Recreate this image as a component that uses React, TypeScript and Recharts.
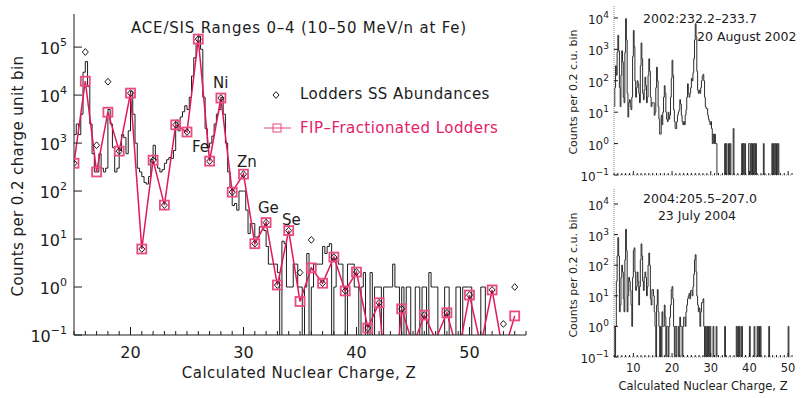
import React from 'react';
import { ComposedChart, Line, XAxis, YAxis } from 'recharts';

const FONT = '"DejaVu Sans", sans-serif';
const INK = '#1c1c1c';
const FRAME_GRAY = '#8a8a8a';
const FIP_RED = '#e0185a';
const SQUARE_PINK = '#ec4a82';
const LEGEND_RED = '#e3226a';

const BIN = 0.2;
const FLOOR = 0.001; // empty bins sit below the 10^-1 floor and get clipped

// ---------- main panel: ACE/SIS counts per 0.2 charge-unit bin, from Z = 15.0 ----------
const MAIN_Z_START = 15;
const MAIN_COUNTS = [
  1500, 2500, 1500, 4000, 30000, // 15
  50000, 15000, 2500, 600, 250, // 16
  250, 600, 300, 250, 300, // 17
  5000, 2500, 800, 250, 300, // 18
  700, 1500, 1300, 600, 1800, // 19
  12000, 4000, 1000, 300, 250, // 20
  200, 150, 140, 200, 450, // 21
  900, 450, 300, 250, 280, // 22
  380, 450, 500, 480, 700, // 23
  3000, 1800, 3500, 4500, 6000, // 24
  5000, 9000, 25000, 60000, 120000, // 25
  170000, 90000, 9000, 2000, 800, // 26
  1000, 1400, 2500, 4000, 5000, // 27
  9000, 4000, 1000, 250, 120, // 28
  50, 55, 40, 100, 100, // 29
  100, 40, 13, 21, 21, // 30
  11, 11, 18, 18, 15, // 31
  7, 3, 3, 3, 3, // 32
  2, 0, 9, 8, 1, // 33
  1, 1, 3, 3, 1, // 34
  1, 0, 1, 5, 0, // 35
  1, 3, 3, 3, 3, // 36
  7, 5, 7, 8, 0, // 37
  1, 4, 3, 3, 1, // 38
  0, 3, 3, 3, 1, // 39
  1, 0, 1, 2, 0, // 40
  0, 2, 0, 1, 1, // 41
  1, 0, 1, 1, 1, // 42
  1, 3, 1, 1, 0, // 43
  1, 0, 1, 1, 0, // 44
  0, 1, 1, 0, 1, // 45
  1, 0, 2, 1, 1, // 46
  1, 0, 0, 0, 1, // 47
  1, 0, 0, 0, 1, // 48
  1, 0, 1, 1, 1, // 49
  1, 0, 0, 0, 0, // 50
  1, 1, 0, 0, 0, // 51
  0, 0, 0, 0, 0, // 52
  0, 0, 0, 0, 0, // 53
  0, 0, 0, 0, 0, // 54
];

const ELEMENT_Z = [
  15, 16, 17, 18, 19, 20, 21, 22, 23, 24, 25, 26, 27, 28, 29, 30, 31, 32, 33, 34,
  35, 36, 37, 38, 39, 40, 41, 42, 43, 44, 45, 46, 47, 48, 49, 50, 51, 52, 53, 54,
];
const FIP_LODDERS = [
  380, 19500, 250, 4400, 680, 11000, 6.2, 440, 51, 2400, 1700, 147000, 420, 8700, 95, 225, 8, 22, 1.1, 15,
  0.5, 2.5, 1.2, 4.2, 0.83, 2.05, 0.14, 0.47, 0, 0.35, 0.06, 0.26, 0.08, 0.29, 0.04, 0.68, 0.06, 0.87, 0.04, 0.25,
];
const SS_LODDERS = [
  380, 79000, 900, 19000, 680, 11000, 6.2, 440, 51, 2400, 1700, 147000, 420, 8700, 95, 225, 8, 22, 1.1, 15,
  2.0, 9.6, 1.2, 4.2, 0.83, 2.05, 0.14, 0.47, 0, 0.35, 0.06, 0.26, 0.08, 0.29, 0.04, 0.68, 0.06, 0.87, 0.17, 1.0,
];

const MAIN_X_LABELS = [20, 30, 40, 50];
const MAIN_Y_TICKS = [0.1, 1, 10, 100, 1000, 10000, 100000];

// ---------- right panels: two events, counts per 0.2 c.u. bin, from Z = 5.0 ----------
const SMALL_Z_START = 5;
const AUG2002_COUNTS = [
  15, 60, 300, 150, 800, // 5
  2800, 900, 60, 15, 150, // 6
  900, 400, 30, 20, 800, // 7
  9500, 2000, 40, 7, 20, // 8
  25, 15, 12, 30, 600, // 9
  4000, 1200, 100, 30, 60, // 10
  100, 80, 40, 20, 300, // 11
  1600, 500, 40, 25, 50, // 12
  130, 70, 20, 30, 150, // 13
  500, 200, 30, 15, 20, // 14
  20, 20, 8, 10, 60, // 15
  270, 100, 15, 6, 2, // 16
  2, 8, 4, 10, 30, // 17
  70, 40, 10, 6, 5, // 18
  10, 6, 8, 30, 120, // 19
  450, 150, 12, 5, 3, // 20
  3, 5, 8, 10, 12, // 21
  25, 18, 8, 5, 4, // 22
  5, 4, 8, 12, 30, // 23
  80, 40, 30, 40, 60, // 24
  120, 100, 180, 500, 2000, // 25
  6500, 2500, 200, 50, 40, // 26
  50, 40, 60, 100, 140, // 27
  160, 100, 30, 15, 13, // 28
  13, 8, 6, 5, 4, // 29
  5, 3, 1, 2, 1, // 30
  2, 1, 1, 0, 0, // 31
  0, 0, 0, 0, 0, // 32
  0, 0, 0, 1, 0, // 33
  1, 0, 0, 1, 0, // 34
  1, 0, 0, 0, 3, // 35
  0, 0, 0, 0, 0, // 36
  0, 0, 0, 0, 0, // 37
  1, 0, 1, 0, 1, // 38
  0, 0, 0, 0, 1, // 39
  1, 0, 1, 0, 1, // 40
  0, 1, 0, 1, 0, // 41
  0, 0, 0, 0, 0, // 42
  0, 0, 0, 1, 0, // 43
  0, 0, 0, 0, 0, // 44
  0, 0, 0, 0, 1, // 45
  0, 1, 0, 1, 0, // 46
  1, 0, 1, 0, 0, // 47
  0, 0, 0, 0, 0, // 48
  0, 0, 0, 0, 0, // 49
  0, 0, 0, 0, 0, // 50
];
const JUL2004_COUNTS = [
  1, 0, 1, 30, 200, // 5
  800, 200, 3, 5, 40, // 6
  100, 60, 8, 3, 150, // 7
  1500, 300, 3, 10, 40, // 8
  30, 15, 5, 1, 40, // 9
  300, 370, 60, 15, 20, // 10
  60, 30, 5, 20, 150, // 11
  500, 200, 30, 15, 40, // 12
  60, 40, 10, 20, 100, // 13
  250, 100, 8, 5, 16, // 14
  16, 10, 3, 1, 0, // 15
  5, 16, 3, 1, 0, // 16
  1, 0, 3, 1, 1, // 17
  5, 2, 0, 1, 1, // 18
  0, 1, 2, 5, 16, // 19
  20, 8, 1, 0, 1, // 20
  1, 0, 0, 1, 0, // 21
  2, 1, 1, 0, 1, // 22
  2, 2, 1, 3, 5, // 23
  8, 10, 12, 8, 15, // 24
  15, 10, 20, 50, 150, // 25
  220, 60, 10, 5, 3, // 26
  4, 1, 3, 6, 6, // 27
  8, 1, 0, 1, 0, // 28
  1, 0, 1, 0, 1, // 29
  0, 0, 0, 1, 0, // 30
  0, 0, 1, 0, 0, // 31
  0, 0, 0, 0, 0, // 32
  0, 0, 0, 1, 0, // 33
  0, 0, 0, 0, 0, // 34
  0, 0, 0, 0, 0, // 35
  0, 0, 0, 1, 0, // 36
  1, 0, 1, 0, 0, // 37
  1, 0, 0, 0, 0, // 38
  0, 0, 0, 0, 0, // 39
  1, 0, 0, 0, 0, // 40
  0, 1, 0, 0, 0, // 41
  1, 0, 1, 0, 1, // 42
  0, 0, 0, 0, 0, // 43
  0, 0, 0, 0, 0, // 44
  1, 0, 0, 0, 0, // 45
  0, 0, 0, 0, 0, // 46
  0, 0, 0, 0, 0, // 47
  0, 0, 0, 0, 0, // 48
  0, 0, 0, 0, 0, // 49
  1, 0, 0, 0, 0, // 50
];
const SMALL_X_LABELS = [10, 20, 30, 40, 50];
const SMALL_Y_TICKS = [0.1, 1, 10, 100, 1000, 10000];

// ---------- helpers ----------
const toSteps = (start: number, counts: number[]) => {
  const pts = counts.map((c, i) => ({ z: Math.round((start + i * BIN) * 10) / 10, v: c > 0 ? c : FLOOR }));
  pts.push({ z: Math.round((start + counts.length * BIN) * 10) / 10, v: pts[pts.length - 1].v });
  return pts;
};
const intRange = (a: number, b: number) => Array.from({ length: b - a + 1 }, (_, i) => a + i);
const expLabel = (v: number) => {
  const e = Math.round(Math.log10(v));
  return e < 0 ? `\u2212${-e}` : `${e}`;
};

function xTicks(side: 'bottom' | 'top', majorLen: number, minorLen: number, labels: number[] | null, fs = 16, dy = 23) {
  return (p: any) => {
    const v = p.payload.value;
    const major = v % 10 === 0;
    const d = side === 'bottom' ? -1 : 1;
    return (
      <g>
        <line x1={p.x} y1={p.y} x2={p.x} y2={p.y + d * (major ? majorLen : minorLen)} stroke={INK} strokeWidth={1} />
        {labels && labels.includes(v) ? (
          <text x={p.x} y={p.y + dy} textAnchor="middle" fontFamily={FONT} fontSize={fs} fill={INK}>{v}</text>
        ) : null}
      </g>
    );
  };
}

type YLab = { fs: number; sfs: number; gap: number; dy: number; sdy: number };
function yTicks(side: 'left' | 'right', len: number, lab: YLab | null) {
  return (p: any) => {
    const v = p.payload.value;
    const d = side === 'left' ? 1 : -1;
    return (
      <g>
        <line x1={p.x} y1={p.y} x2={p.x + d * len} y2={p.y} stroke={INK} strokeWidth={1} />
        {lab ? (
          <text x={p.x - lab.gap} y={p.y + lab.dy} textAnchor="end" fontFamily={FONT} fontSize={lab.fs} fill={INK}>
            10<tspan dy={lab.sdy} fontSize={lab.sfs}>{expLabel(v)}</tspan>
          </text>
        ) : null}
      </g>
    );
  };
}

const squareDot = (p: any) => {
  if (p.payload.v < 0.1) return <g key={p.index} />;
  return (
    <rect key={p.index} x={p.cx - 4.5} y={p.cy - 4.5} width={9} height={9}
      fill="none" stroke={SQUARE_PINK} strokeWidth={1.8} />
  );
};
const diamondDot = (p: any) => {
  if (p.payload.v < 0.1) return <g key={p.index} />;
  const { cx, cy } = p;
  return (
    <path key={p.index} d={`M${cx},${cy - 3.4}L${cx + 3},${cy}L${cx},${cy + 3.4}L${cx - 3},${cy}Z`}
      fill="none" stroke={INK} strokeWidth={1} />
  );
};

const mainSteps = toSteps(MAIN_Z_START, MAIN_COUNTS);
const fipPoints = ELEMENT_Z.map((z, i) => ({ z, v: FIP_LODDERS[i] > 0 ? FIP_LODDERS[i] : FLOOR }));
const ssPoints = ELEMENT_Z.map((z, i) => ({ z, v: SS_LODDERS[i] })).filter((p) => p.v >= 0.1);
const MAIN_X_TICKS = intRange(15, 55);
const SMALL_X_TICKS = intRange(5, 51);

function MainPanel() {
  return (
    <div style={{ position: 'absolute', left: 0, top: 0 }}>
      <ComposedChart width={540} height={398} margin={{ top: 14, right: 14, bottom: 0, left: 0 }}>
        <XAxis xAxisId="b" dataKey="z" type="number" domain={[15, 55]} allowDataOverflow ticks={MAIN_X_TICKS}
          interval={0} height={63} tickSize={0} tickMargin={0} tickLine={false}
          axisLine={{ stroke: INK }} tick={xTicks('bottom', 8, 4, MAIN_X_LABELS, 16, 23)} />
        <XAxis xAxisId="t" orientation="top" dataKey="z" type="number" domain={[15, 55]} allowDataOverflow
          ticks={MAIN_X_TICKS} interval={0} height={0} tickSize={0} tickMargin={0} tickLine={false}
          axisLine={{ stroke: INK }} tick={xTicks('top', 8, 4, null)} />
        <YAxis yAxisId="l" dataKey="v" type="number" scale="log" domain={[0.1, 4.9e5]} allowDataOverflow
          ticks={MAIN_Y_TICKS} interval={0} width={74} tickSize={0} tickMargin={0} tickLine={false}
          axisLine={{ stroke: INK }} tick={yTicks('left', 8, { fs: 16, sfs: 11, gap: 7, dy: 7, sdy: -8 })} />
        <YAxis yAxisId="r" orientation="right" dataKey="v" type="number" scale="log" domain={[0.1, 4.9e5]}
          allowDataOverflow ticks={MAIN_Y_TICKS} interval={0} width={0} tickSize={0} tickMargin={0}
          tickLine={false} axisLine={{ stroke: '#555' }} tick={yTicks('right', 8, null)} />

        {/* measured histogram */}
        <Line xAxisId="b" yAxisId="l" data={mainSteps} dataKey="v" type="stepAfter" stroke={INK}
          strokeWidth={1} dot={false} isAnimationActive={false} />
        {/* FIP-fractionated Lodders */}
        <Line xAxisId="b" yAxisId="l" data={fipPoints} dataKey="v" type="linear" stroke={FIP_RED}
          strokeWidth={1.5} dot={squareDot} isAnimationActive={false} />
        {/* Lodders solar-system abundances */}
        <Line xAxisId="b" yAxisId="l" data={ssPoints} dataKey="v" type="linear" stroke="none"
          dot={diamondDot} isAnimationActive={false} />
      </ComposedChart>
    </div>
  );
}

function SmallPanel({ top, height, marginTop, xAxisHeight, yMax, counts, xLabels }: {
  top: number; height: number; marginTop: number; xAxisHeight: number; yMax: number; counts: number[]; xLabels: boolean;
}) {
  const steps = toSteps(SMALL_Z_START, counts);
  const frame = { stroke: FRAME_GRAY, strokeDasharray: '1 1' };
  return (
    <div style={{ position: 'absolute', left: 560, top }}>
      <ComposedChart width={240} height={height} margin={{ top: marginTop, right: 8, bottom: 0, left: 0 }}>
        <XAxis xAxisId="b" dataKey="z" type="number" domain={[5, 51]} allowDataOverflow ticks={SMALL_X_TICKS}
          interval={0} height={xAxisHeight} tickSize={0} tickMargin={0} tickLine={false} axisLine={frame}
          tick={xTicks('bottom', 4, 2, xLabels ? SMALL_X_LABELS : null, 11.5, 15)} />
        <XAxis xAxisId="t" orientation="top" dataKey="z" type="number" domain={[5, 51]} allowDataOverflow
          ticks={SMALL_X_TICKS} interval={0} height={0} tickSize={0} tickMargin={0} tickLine={false}
          axisLine={frame} tick={xTicks('top', 4, 2, null)} />
        <YAxis yAxisId="l" dataKey="v" type="number" scale="log" domain={[0.1, yMax]} allowDataOverflow
          ticks={SMALL_Y_TICKS} interval={0} width={54} tickSize={0} tickMargin={0} tickLine={false}
          axisLine={frame} tick={yTicks('left', 4, { fs: 12, sfs: 9, gap: 5, dy: 6, sdy: -6 })} />
        <YAxis yAxisId="r" orientation="right" dataKey="v" type="number" scale="log" domain={[0.1, yMax]}
          allowDataOverflow ticks={SMALL_Y_TICKS} interval={0} width={0} tickSize={0} tickMargin={0}
          tickLine={false} axisLine={frame} tick={yTicks('right', 4, null)} />
        <Line xAxisId="b" yAxisId="l" data={steps} dataKey="v" type="stepAfter" stroke="#2e2e2e"
          strokeWidth={1} dot={false} isAnimationActive={false} />
      </ComposedChart>
    </div>
  );
}

function Annotations() {
  const t = { fontFamily: FONT, fill: INK };
  return (
    <svg width={805} height={398} style={{ position: 'absolute', left: 0, top: 0, pointerEvents: 'none' }}>
      <text x={299} y={33} textAnchor="middle" fontSize={15} letterSpacing={0.8} {...t}>
        ACE/SIS Ranges 0–4 (10–50 MeV/n at Fe)
      </text>
      <text x={192} y={152} fontSize={15} {...t}>Fe</text>
      <text x={213} y={88} fontSize={15} {...t}>Ni</text>
      <text x={237} y={167} fontSize={15} {...t}>Zn</text>
      <text x={258} y={213} fontSize={15} {...t}>Ge</text>
      <text x={282} y={225} fontSize={15} {...t}>Se</text>

      {/* legend */}
      <path d="M276,91.6L279,95L276,98.4L273,95Z" fill="none" stroke={INK} strokeWidth={1} />
      <text x={300} y={99} fontSize={15} letterSpacing={0.45} {...t}>Lodders SS Abundances</text>
      <line x1={264} y1={128} x2={291} y2={128} stroke={SQUARE_PINK} strokeWidth={1} />
      <rect x={273} y={124} width={8} height={8} fill="none" stroke={SQUARE_PINK} strokeWidth={1} />
      <text x={300} y={133} fontSize={15} letterSpacing={0.45} fontFamily={FONT} fill={LEGEND_RED}>
        FIP–Fractionated Lodders
      </text>

      <text x={299} y={378} textAnchor="middle" fontSize={15} letterSpacing={0.5} {...t}>
        Calculated Nuclear Charge, Z
      </text>
      <text transform="translate(23,176) rotate(-90)" textAnchor="middle" fontSize={15} letterSpacing={0.4} {...t}>
        Counts per 0.2 charge unit bin
      </text>

      {/* right panels */}
      <text x={700} y={23} textAnchor="middle" fontSize={12.5} {...t}>2002:232.2–233.7</text>
      <text x={697} y={41} fontSize={12.5} {...t}>20 August 2002</text>
      <text x={700} y={203} textAnchor="middle" fontSize={12.5} {...t}>2004:205.5–207.0</text>
      <text x={697} y={220} textAnchor="middle" fontSize={12.5} {...t}>23 July 2004</text>
      <text transform="translate(577,92) rotate(-90)" textAnchor="middle" fontSize={11} {...t}>
        Counts per 0.2 c.u. bin
      </text>
      <text transform="translate(577,275) rotate(-90)" textAnchor="middle" fontSize={11} {...t}>
        Counts per 0.2 c.u. bin
      </text>
      <text x={703} y={390} textAnchor="middle" fontSize={11.5} {...t}>Calculated Nuclear Charge, Z</text>
    </svg>
  );
}

export default function App() {
  return (
    <div style={{ position: 'absolute', left: 0, top: 0, width: 805, height: 398, background: '#fff' }}>
      <MainPanel />
      <SmallPanel top={0} height={185} marginTop={6} xAxisHeight={10} yMax={2.4e4} counts={AUG2002_COUNTS} xLabels={false} />
      <SmallPanel top={185} height={213} marginTop={4} xAxisHeight={41} yMax={3.1e4} counts={JUL2004_COUNTS} xLabels />
      <Annotations />
    </div>
  );
}
